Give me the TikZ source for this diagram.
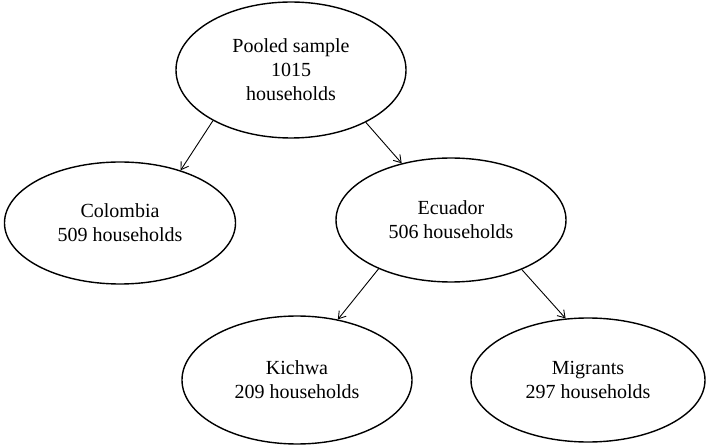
\documentclass[tikz,border=0pt]{standalone}
\usepackage{fontspec}
\setmainfont{Liberation Serif}
\usetikzlibrary{shapes.geometric,arrows.meta}
\begin{document}
\begin{tikzpicture}[x=1pt,y=-1pt,
  oval/.style={draw, ellipse, line width=1.4pt, inner sep=0pt, align=center, font=\fontsize{20}{24}\selectfont},
  link/.style={line width=0.9pt, -{Straight Barb[length=7pt,width=9pt]}}]
\useasboundingbox (0,0) rectangle (712,446);
\node[oval, minimum width=230pt, minimum height=136pt] (pool) at (291,70) {Pooled sample\\1015\\households};
\node[oval, minimum width=231pt, minimum height=122pt] (col) at (120,223) {Colombia\\509 households};
\node[oval, minimum width=230pt, minimum height=124pt] (ecu) at (451,220) {Ecuador\\506 households};
\node[oval, minimum width=230pt, minimum height=128pt] (kic) at (297,380) {Kichwa\\209 households};
\node[oval, minimum width=234pt, minimum height=124pt] (mig) at (588,380) {Migrants\\297 households};
\draw[link] (pool.213) -- (col.41);
\draw[link] (pool.325) -- (ecu.131);
\draw[link] (ecu.214) -- (kic.56);
\draw[link] (ecu.325) -- (mig.110);
\end{tikzpicture}
\end{document}
